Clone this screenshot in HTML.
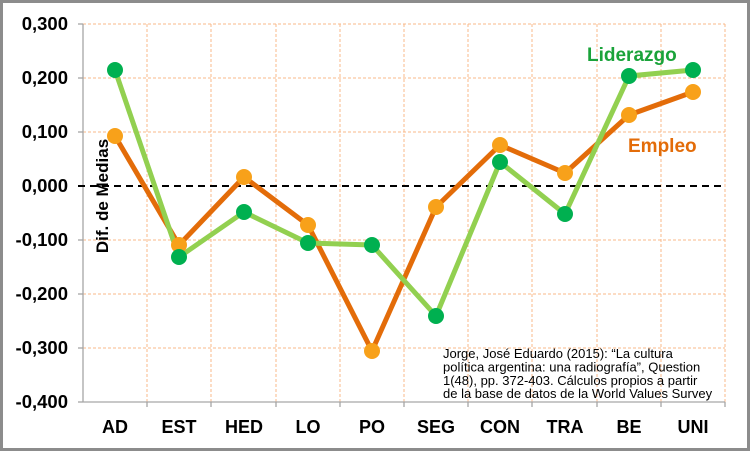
<!DOCTYPE html>
<html><head><meta charset="utf-8"><style>
body{margin:0;background:#fff;}
svg{display:block;font-family:"Liberation Sans",Arial,sans-serif;}
</style></head><body>
<svg width="750" height="451" viewBox="0 0 750 451">
<rect x="1.5" y="1.5" width="747" height="448" fill="#fff" stroke="#8c8c8c" stroke-width="3"/>
<g stroke="#f9b98a" stroke-width="1" stroke-dasharray="3,2">
<line x1="83" y1="24" x2="725" y2="24"/><line x1="83" y1="78" x2="725" y2="78"/>
<line x1="83" y1="132" x2="725" y2="132"/><line x1="83" y1="240" x2="725" y2="240"/>
<line x1="83" y1="294" x2="725" y2="294"/><line x1="83" y1="348" x2="725" y2="348"/>
<line x1="147" y1="24" x2="147" y2="402"/><line x1="211" y1="24" x2="211" y2="402"/>
<line x1="276" y1="24" x2="276" y2="402"/><line x1="340" y1="24" x2="340" y2="402"/>
<line x1="404" y1="24" x2="404" y2="402"/><line x1="468" y1="24" x2="468" y2="402"/>
<line x1="532" y1="24" x2="532" y2="402"/><line x1="597" y1="24" x2="597" y2="402"/>
<line x1="661" y1="24" x2="661" y2="402"/><line x1="725" y1="24" x2="725" y2="402"/>
</g>
<g stroke="#a6a6a6" stroke-width="1.3">
<line x1="83" y1="24" x2="83" y2="402"/><line x1="83" y1="402" x2="725" y2="402"/>
<line x1="78" y1="24" x2="83" y2="24"/><line x1="78" y1="78" x2="83" y2="78"/><line x1="78" y1="132" x2="83" y2="132"/><line x1="78" y1="186" x2="83" y2="186"/><line x1="78" y1="240" x2="83" y2="240"/><line x1="78" y1="294" x2="83" y2="294"/><line x1="78" y1="348" x2="83" y2="348"/><line x1="78" y1="402" x2="83" y2="402"/>
<line x1="147" y1="402" x2="147" y2="407"/><line x1="211" y1="402" x2="211" y2="407"/><line x1="276" y1="402" x2="276" y2="407"/><line x1="340" y1="402" x2="340" y2="407"/><line x1="404" y1="402" x2="404" y2="407"/><line x1="468" y1="402" x2="468" y2="407"/><line x1="532" y1="402" x2="532" y2="407"/><line x1="597" y1="402" x2="597" y2="407"/><line x1="661" y1="402" x2="661" y2="407"/><line x1="725" y1="402" x2="725" y2="407"/>
</g>
<line x1="78" y1="186" x2="725" y2="186" stroke="#000" stroke-width="2" stroke-dasharray="7,5"/>
<g font-size="18.5" font-weight="bold" text-anchor="end" fill="#000">
<text x="68" y="30">0,300</text><text x="68" y="84">0,200</text><text x="68" y="138">0,100</text><text x="68" y="192">0,000</text><text x="68" y="246">-0,100</text><text x="68" y="300">-0,200</text><text x="68" y="354">-0,300</text><text x="68" y="408">-0,400</text>
</g>
<g font-size="18" font-weight="bold" text-anchor="middle" fill="#000">
<text x="115" y="433">AD</text><text x="179" y="433">EST</text><text x="244" y="433">HED</text><text x="308" y="433">LO</text><text x="372" y="433">PO</text><text x="436" y="433">SEG</text><text x="500" y="433">CON</text><text x="565" y="433">TRA</text><text x="629" y="433">BE</text><text x="693" y="433">UNI</text>
</g>
<text transform="translate(108,196) rotate(-90)" font-size="17" font-weight="bold" text-anchor="middle">Dif. de Medias</text>
<polyline fill="none" stroke="#e36c09" stroke-width="5" stroke-linejoin="round" points="115,136 179,245 244,177 308,225 372,351 436,207 500,145 565,173 629,115 693,92"/>
<polyline fill="none" stroke="#92d050" stroke-width="5" stroke-linejoin="round" points="115,70 179,257 244,212 308,243 372,245 436,316 500,162 565,214 629,76 693,70"/>
<g fill="#f8a11a">
<circle cx="115" cy="136" r="8"/><circle cx="179" cy="245" r="8"/><circle cx="244" cy="177" r="8"/><circle cx="308" cy="225" r="8"/><circle cx="372" cy="351" r="8"/><circle cx="436" cy="207" r="8"/><circle cx="500" cy="145" r="8"/><circle cx="565" cy="173" r="8"/><circle cx="629" cy="115" r="8"/><circle cx="693" cy="92" r="8"/>
</g>
<g fill="#00b050">
<circle cx="115" cy="70" r="8"/><circle cx="179" cy="257" r="8"/><circle cx="244" cy="212" r="8"/><circle cx="308" cy="243" r="8"/><circle cx="372" cy="245" r="8"/><circle cx="436" cy="316" r="8"/><circle cx="500" cy="162" r="8"/><circle cx="565" cy="214" r="8"/><circle cx="629" cy="76" r="8"/><circle cx="693" cy="70" r="8"/>
</g>
<text x="587" y="61" font-size="19" font-weight="bold" fill="#1aa33a">Liderazgo</text>
<text x="628" y="152" font-size="19" font-weight="bold" fill="#e36c09">Empleo</text>
<g font-size="13" fill="#000">
<text x="443" y="358">Jorge, José Eduardo (2015): “La cultura</text>
<text x="443" y="371.5">política argentina: una radiografía”, Question</text>
<text x="443" y="385">1(48), pp. 372-403. Cálculos propios a partir</text>
<text x="443" y="398">de la base de datos de la World Values Survey</text>
</g>
</svg>
</body></html>
